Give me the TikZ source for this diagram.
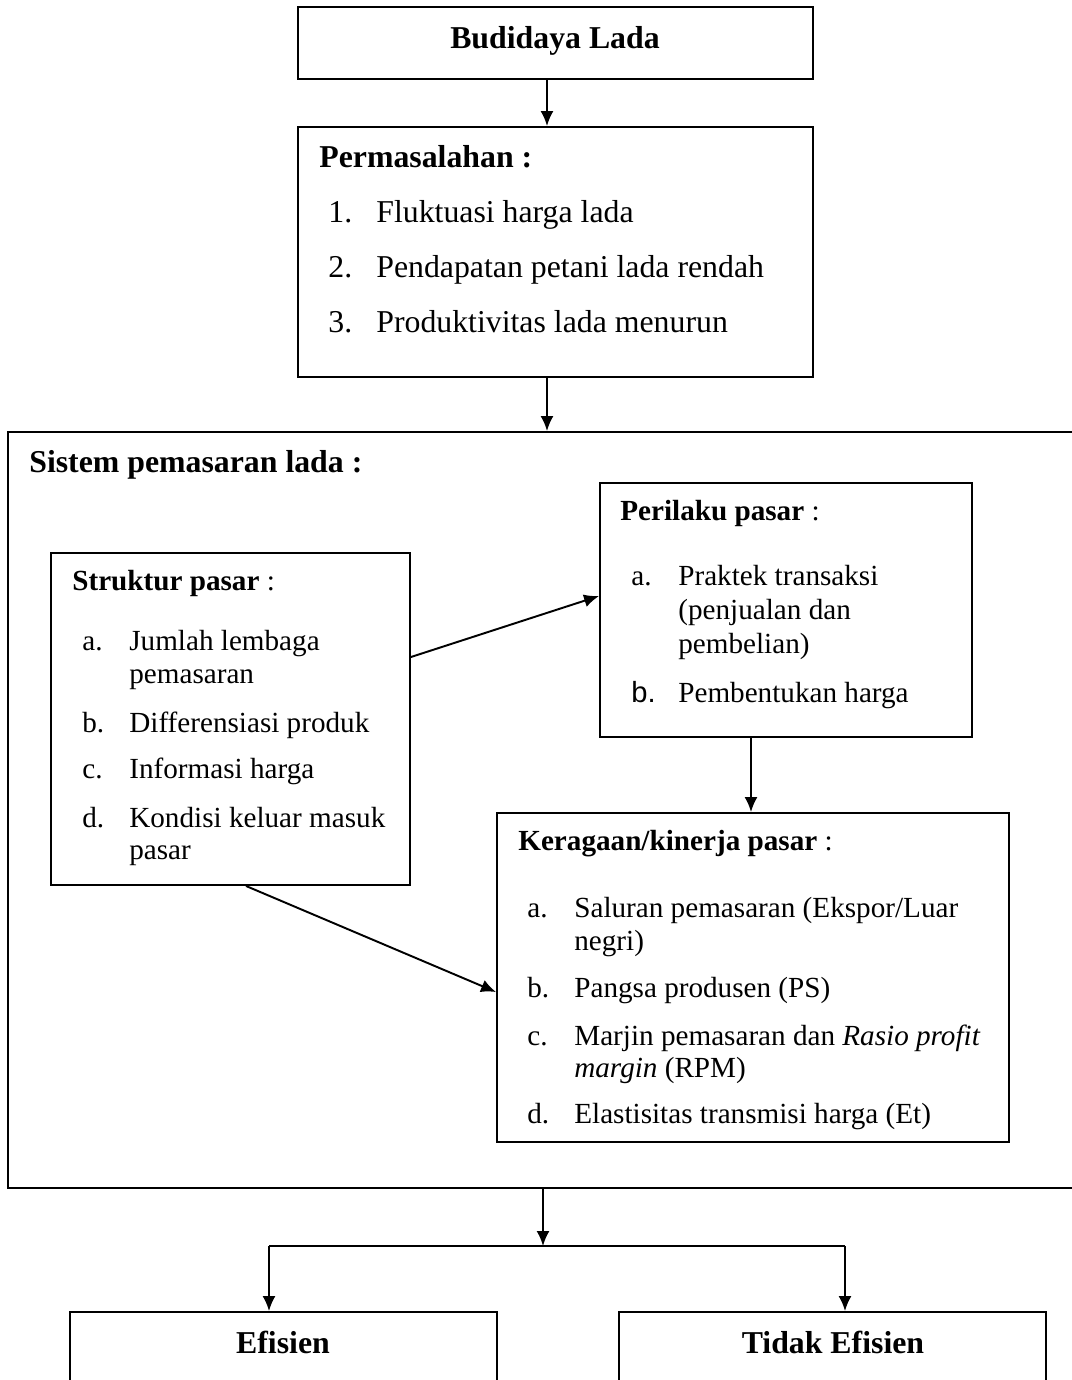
\documentclass[tikz,border=0pt]{standalone}
\usepackage{fontspec}
\setmainfont{Liberation Serif}
\setsansfont{Liberation Sans}
\usetikzlibrary{arrows.meta, positioning, fit}

\tikzset{
    box/.style={draw, line width=1.1pt, inner sep=0pt},
    big/.style={anchor=base west, inner sep=0pt, font=\fontsize{18.1}{21}\selectfont},
    small/.style={anchor=base west, inner sep=0pt, font=\fontsize{16.6}{19}\selectfont},
    arr/.style={line width=1.1pt, -{Latex[length=3mm,width=2.6mm]}}
}

\begin{document}
\begin{tikzpicture}[x=0.02cm, y=-0.02cm]
        \useasboundingbox (0,0) rectangle (1072,1380);
        \clip (0,0) rectangle (1072,1380);

        % Kotak
        \node[box, fit={(298,7) (813,79)}] (budidaya) {};
        \node[box, fit={(298,127) (813,377)}] (masalah) {};
        \node[box, fit={(8,432) (1100,1188)}] (sistem) {};
        \node[box, fit={(51,553) (410,885)}] (struktur) {};
        \node[box, fit={(600,483) (972,737)}] (perilaku) {};
        \node[box, fit={(497,813) (1009,1142)}] (kinerja) {};
        \node[box, fit={(70,1312) (497,1420)}] (efisien) {};
        \node[box, fit={(619,1312) (1046,1420)}] (tidak) {};

        % Judul
        \node[big, anchor=base] (t-budidaya) at (555,48) {\textbf{Budidaya Lada}};
        \node[big] (t-masalah) at (319,167) {\textbf{Permasalahan :}};
        \node[big] (t-sistem) at (29,472) {\textbf{Sistem pemasaran lada :}};
        \node[small] (t-struktur) at (72,590) {\textbf{Struktur pasar} :};
        \node[small] (t-perilaku) at (620,520) {\textbf{Perilaku pasar} :};
        \node[small] (t-kinerja) at (518,850) {\textbf{Keragaan/kinerja pasar} :};
        \node[big, anchor=base] (t-efisien) at (283,1353) {\textbf{Efisien}};
        \node[big, anchor=base] (t-tidak) at (833,1353) {\textbf{Tidak Efisien}};

        % Isi permasalahan
        \foreach \yy/\no/\txt [count=\i] in {222/1./Fluktuasi harga lada, 277/2./Pendapatan petani lada rendah, 332/3./Produktivitas lada menurun} {
            \node[big] (mn-\i) at (328,\yy) {\no};
            \node[big] (mt-\i) at (376,\yy) {\txt};
        }

        % Isi struktur pasar
        \foreach \yy/\hrf [count=\i] in {650/a., 732/b., 778/c., 827/d.}
            \node[small] (sh-\i) at (82,\yy) {\hrf};
        \foreach \yy/\txt [count=\i] in {650/Jumlah lembaga, 683/pemasaran, 732/Differensiasi produk, 778/Informasi harga, 827/Kondisi keluar masuk, 859/pasar}
            \node[small] (st-\i) at (129,\yy) {\txt};

        % Isi perilaku pasar
        \foreach \yy/\hrf [count=\i] in {585/a., 702/{\sffamily b.}}
            \node[small] (ph-\i) at (631,\yy) {\hrf};
        \foreach \yy/\txt [count=\i] in {585/Praktek transaksi, 619/{(penjualan dan}, 653/{pembelian)}, 702/Pembentukan harga}
            \node[small] (pt-\i) at (678,\yy) {\txt};

        % Isi keragaan pasar
        \foreach \yy/\hrf [count=\i] in {917/a., 997/b., 1045/c., 1123/d.}
            \node[small] (kh-\i) at (527,\yy) {\hrf};
        \foreach \yy/\txt [count=\i] in {917/{Saluran pemasaran (Ekspor/Luar}, 950/{negri)}, 997/{Pangsa produsen (PS)}, 1045/{Marjin pemasaran dan \textit{Rasio profit}}, 1077/{\textit{margin} (RPM)}, 1123/{Elastisitas transmisi harga (Et)}}
            \node[small] (kt-\i) at (574,\yy) {\txt};

        % Panah
        \draw[arr] (547,0 |- budidaya.south) -- (547,0 |- masalah.north);
        \draw[arr] (547,0 |- masalah.south) -- (547,0 |- sistem.north);
        \draw[arr] (struktur.east |- 0,657) -- (perilaku.west |- 0,596);
        \draw[arr] (246,0 |- struktur.south) -- (kinerja.west |- 0,992);
        \draw[arr] (751,0 |- perilaku.south) -- (751,0 |- kinerja.north);

        \coordinate (cabang) at (543,1246);
        \coordinate (kiri) at (269,1246);
        \coordinate (kanan) at (845,1246);
        \draw[arr] (543,0 |- sistem.south) -- (cabang);
        \draw[line width=1.1pt] (kiri) -- (kanan);
        \draw[arr] (kiri) -- (kiri |- efisien.north);
        \draw[arr] (kanan) -- (kanan |- tidak.north);
    \end{tikzpicture}
\end{document}
